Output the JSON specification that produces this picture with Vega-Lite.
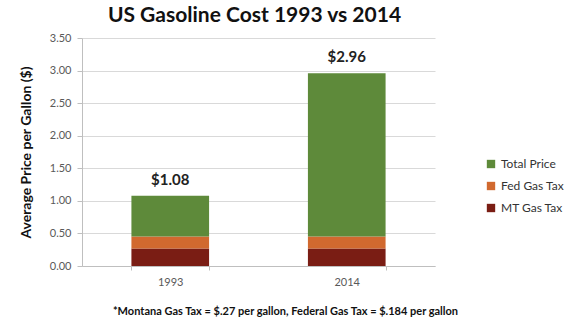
{
  "$schema": "https://vega.github.io/schema/vega-lite/v6.json",
  "width": 353,
  "height": 228,
  "autosize": {"type": "none"},
  "padding": {"left": 82, "top": 38, "right": 139, "bottom": 54},
  "background": "white",
  "config": {
    "view": {"stroke": null},
    "font": "Lato",
    "axisY": {
      "values": [0, 0.5, 1, 1.5, 2, 2.5, 3, 3.5],
      "format": ".2f",
      "labelFont": "Lato",
      "labelFontSize": 11,
      "labelColor": "#595959",
      "labelPadding": 6,
      "domainColor": "#bfbfbf",
      "tickColor": "#bfbfbf",
      "tickSize": 5,
      "gridColor": "#d9d9d9",
      "titleFont": "Lato",
      "titleFontSize": 14,
      "titleFontWeight": "bold",
      "titleColor": "#111111",
      "titlePadding": 16
    },
    "axisX": {
      "labelAngle": 0,
      "labelFont": "Lato",
      "labelFontSize": 11,
      "labelColor": "#595959",
      "labelPadding": 6,
      "domainColor": "#bfbfbf",
      "tickColor": "#bfbfbf",
      "tickBand": "extent",
      "tickSize": 4,
      "titleFont": "Lato",
      "titleFontSize": 11,
      "titleFontWeight": "bold",
      "titleColor": "#111111",
      "titleX": 203,
      "titleY": 50,
      "titleAnchor": "middle",
      "titleBaseline": "bottom"
    }
  },
  "title": {
    "text": "US Gasoline Cost 1993 vs 2014",
    "font": "Lato",
    "fontSize": 21,
    "fontWeight": "bold",
    "color": "#111111",
    "anchor": "middle",
    "offset": 6,
    "dx": -4
  },
  "datasets": {
    "parts": [
      {"year": "1993", "component": "MT Gas Tax", "value": 0.27, "rank": 1},
      {"year": "1993", "component": "Fed Gas Tax", "value": 0.184, "rank": 2},
      {"year": "1993", "component": "Total Price", "value": 0.626, "rank": 3},
      {"year": "2014", "component": "MT Gas Tax", "value": 0.27, "rank": 1},
      {"year": "2014", "component": "Fed Gas Tax", "value": 0.184, "rank": 2},
      {"year": "2014", "component": "Total Price", "value": 2.506, "rank": 3}
    ],
    "totals": [
      {"year": "1993", "total": 1.08, "label": "$1.08"},
      {"year": "2014", "total": 2.96, "label": "$2.96"}
    ]
  },
  "layer": [
    {
      "data": {"name": "parts"},
      "mark": {"type": "bar"},
      "encoding": {
        "x": {
          "field": "year",
          "type": "nominal",
          "scale": {"paddingInner": 0.56, "paddingOuter": 0.28},
          "title": "*Montana  Gas Tax = $.27 per gallon,  Federal Gas Tax = $.184 per gallon"
        },
        "y": {
          "field": "value",
          "type": "quantitative",
          "stack": "zero",
          "scale": {"domain": [0, 3.5]},
          "title": "Average Price per Gallon ($)"
        },
        "color": {
          "field": "component",
          "type": "nominal",
          "scale": {
            "domain": ["Total Price", "Fed Gas Tax", "MT Gas Tax"],
            "range": ["#5e8a3a", "#d1692f", "#7a1d14"]
          },
          "legend": {
            "title": null,
            "orient": "none",
            "legendX": 403,
            "legendY": 120,
            "symbolType": "square",
            "symbolSize": 70,
            "symbolStrokeWidth": 0,
            "labelFont": "Lato",
            "labelFontSize": 12,
            "labelColor": "#333333",
            "rowPadding": 10
          }
        },
        "order": {"field": "rank", "type": "quantitative"}
      }
    },
    {
      "data": {"name": "totals"},
      "mark": {
        "type": "text",
        "baseline": "bottom",
        "dy": -8,
        "font": "Lato",
        "fontSize": 15,
        "fontWeight": "bold",
        "color": "#222222"
      },
      "encoding": {
        "x": {"field": "year", "type": "nominal", "title": "*Montana  Gas Tax = $.27 per gallon,  Federal Gas Tax = $.184 per gallon"},
        "y": {"field": "total", "type": "quantitative", "title": "Average Price per Gallon ($)"},
        "text": {"field": "label"}
      }
    }
  ]
}
